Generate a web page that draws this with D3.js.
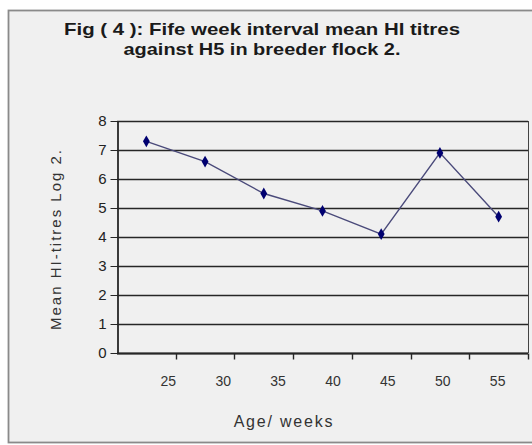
<!DOCTYPE html>
<html>
<head>
<meta charset="utf-8">
<script src="https://cdn.jsdelivr.net/npm/d3@7"></script>
<style>
  body { margin: 0; background: #fff; }
  svg { display: block; font-family: "Liberation Sans", Arial, sans-serif; }
</style>
</head>
<body>
<svg id="chart"></svg>
<script>
const ages = ["25", "30", "35", "40", "45", "50", "55"];
const titres = [7.3, 6.6, 5.5, 4.9, 4.1, 6.9, 4.7];
const yTicks = [0, 1, 2, 3, 4, 5, 6, 7, 8];
const titleLines = ["Fig ( 4 ): Fife week interval mean HI titres", "against H5 in breeder flock 2."];
const titleWidths = [396, 277];

const width = 532, height = 445;
const margin = { top: 121, right: 4, bottom: 92, left: 117 };

const svg = d3.select("#chart").attr("width", width).attr("height", height);

// outer frame
svg.append("rect")
  .attr("x", 8.5).attr("y", 10.5)
  .attr("width", width + 10).attr("height", 432)
  .attr("fill", "#f0f0f0")
  .attr("stroke", "#8a8a8a")
  .attr("stroke-width", 1.8);

const xScale = d3.scaleBand()
  .domain(ages)
  .range([margin.left, width - margin.right]);

const yScale = d3.scaleLinear()
  .domain([0, 8])
  .range([height - margin.bottom, margin.top]);

const half = xScale.bandwidth() / 2;

// gridlines
svg.append("g")
  .selectAll("line")
  .data(yTicks)
  .join("line")
  .attr("x1", margin.left).attr("x2", width - margin.right)
  .attr("y1", d => Math.round(yScale(d)) + 0.5)
  .attr("y2", d => Math.round(yScale(d)) + 0.5)
  .attr("stroke", "#262626")
  .attr("stroke-width", 1.5);

// right plot border
svg.append("line")
  .attr("x1", width - margin.right + 0.5).attr("x2", width - margin.right + 0.5)
  .attr("y1", margin.top).attr("y2", height - margin.bottom)
  .attr("stroke", "#444");

// y axis
const yAxis = svg.append("g")
  .attr("transform", `translate(${margin.left + 0.5},0)`)
  .call(d3.axisLeft(yScale).tickValues(yTicks).tickSize(7).tickSizeOuter(0).tickPadding(4));
yAxis.select(".domain").attr("stroke", "#262626").attr("stroke-width", 1.8);
yAxis.selectAll(".tick line").attr("stroke", "#262626");
yAxis.selectAll("text").attr("font-size", 15).attr("fill", "#222");

// x axis: ticks between categories
const xAxisG = svg.append("g")
  .attr("transform", `translate(0,${Math.round(height - margin.bottom) + 0.5})`);
xAxisG.append("line")
  .attr("x1", margin.left).attr("x2", width - margin.right)
  .attr("stroke", "#262626").attr("stroke-width", 1.8);
const bounds = ages.map(a => xScale(a) + xScale.bandwidth());
xAxisG.selectAll(".tk")
  .data(bounds)
  .join("line")
  .attr("class", "tk")
  .attr("x1", d => Math.round(d) + 0.5).attr("x2", d => Math.round(d) + 0.5)
  .attr("y1", 0).attr("y2", 6)
  .attr("stroke", "#262626")
  .attr("stroke-width", 1.4);

// labels sit a little off the band centres, as in the source
const labelScale = d3.scalePoint()
  .domain(ages)
  .range([xScale(ages[0]) + half + 22, xScale(ages[ages.length - 1]) + half - 1]);
xAxisG.selectAll("text")
  .data(ages)
  .join("text")
  .attr("x", labelScale)
  .attr("y", 32)
  .attr("text-anchor", "middle")
  .attr("font-size", 14)
  .attr("fill", "#333")
  .text(d => d);

// line + markers
const line = d3.line()
  .x((d, i) => xScale(ages[i]) + half)
  .y(d => yScale(d));

svg.append("path")
  .datum(titres)
  .attr("d", line)
  .attr("fill", "none")
  .attr("stroke", "#4a4a7a")
  .attr("stroke-width", 1.4);

svg.append("g")
  .selectAll("path")
  .data(titres)
  .join("path")
  .attr("d", d3.symbol(d3.symbolDiamond, 40))
  .attr("transform", (d, i) => `translate(${xScale(ages[i]) + half},${yScale(d)})`)
  .attr("fill", "#000070");

// title, stretched to the width of the source lettering
svg.append("g")
  .selectAll("text")
  .data(titleLines)
  .join("text")
  .attr("x", (d, i) => 262 - titleWidths[i] / 2)
  .attr("y", (d, i) => 35 + i * 20)
  .attr("textLength", (d, i) => titleWidths[i])
  .attr("lengthAdjust", "spacingAndGlyphs")
  .attr("font-size", 17)
  .attr("font-weight", "bold")
  .attr("fill", "#1a1a1a")
  .text(d => d);

// axis titles
svg.append("text")
  .attr("transform", "translate(61,239) rotate(-90)")
  .attr("text-anchor", "middle")
  .attr("font-size", 15)
  .attr("letter-spacing", 2)
  .attr("fill", "#333")
  .text("Mean HI-titres Log 2.");

svg.append("text")
  .attr("x", 284).attr("y", 427)
  .attr("text-anchor", "middle")
  .attr("font-size", 16)
  .attr("letter-spacing", 1.8)
  .attr("fill", "#333")
  .text("Age/ weeks");
</script>
</body>
</html>
